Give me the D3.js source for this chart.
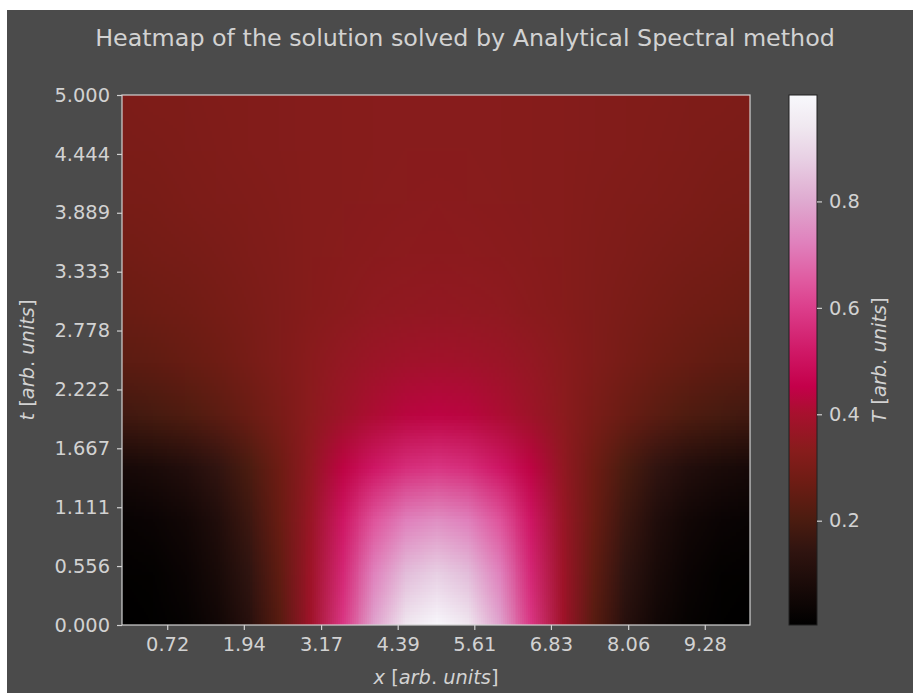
<!DOCTYPE html>
<html lang="en">
<head>
<meta charset="UTF-8">
<title>Heatmap of the solution solved by Analytical Spectral method</title>
<script src="https://cdn.jsdelivr.net/npm/d3@7"></script>
<style>
  html, body { margin: 0; padding: 0; background: #ffffff; }
  svg { display: block; font-family: "DejaVu Sans", sans-serif; }
  .axis .domain { display: none; }
  .axis line { stroke: #d2d2d2; stroke-width: 1.2; }
  .axis text { fill: #d2d2d2; font-size: 19.4px; font-family: "DejaVu Sans", sans-serif; }
  .lbl { fill: #d2d2d2; font-size: 19.4px; }
  .it { font-style: italic; }
</style>
</head>
<body>
<div id="chart"></div>
<script>
// grid of the solution T(x, t)
const xGrid = [0, 0.5, 1, 1.5, 2, 2.5, 3, 3.5, 4, 4.5, 5, 5.5, 6, 6.5, 7, 7.5, 8, 8.5, 9, 9.5, 10];
const tGrid = [0, 0.5, 1, 1.5, 2, 2.5, 3, 3.5, 4, 4.5, 5];

// one row per entry of tGrid, one value per entry of xGrid
const T_t00 = [0.004, 0.009, 0.022, 0.054, 0.117, 0.226, 0.386, 0.585, 0.788, 0.942, 1.000, 0.942, 0.788, 0.585, 0.386, 0.226, 0.117, 0.054, 0.022, 0.009, 0.004];
const T_t05 = [0.012, 0.017, 0.035, 0.075, 0.140, 0.245, 0.380, 0.550, 0.725, 0.840, 0.880, 0.840, 0.725, 0.550, 0.380, 0.245, 0.140, 0.075, 0.035, 0.017, 0.012];
const T_t10 = [0.028, 0.035, 0.055, 0.098, 0.168, 0.262, 0.370, 0.510, 0.640, 0.722, 0.750, 0.722, 0.640, 0.510, 0.370, 0.262, 0.168, 0.098, 0.055, 0.035, 0.028];
const T_t15 = [0.070, 0.082, 0.105, 0.145, 0.200, 0.272, 0.355, 0.440, 0.512, 0.562, 0.580, 0.562, 0.512, 0.440, 0.355, 0.272, 0.200, 0.145, 0.105, 0.082, 0.070];
const T_t20 = [0.180, 0.192, 0.210, 0.234, 0.265, 0.301, 0.341, 0.379, 0.411, 0.432, 0.440, 0.432, 0.411, 0.379, 0.341, 0.301, 0.265, 0.234, 0.210, 0.192, 0.180];
const T_t25 = [0.235, 0.245, 0.258, 0.274, 0.293, 0.315, 0.337, 0.358, 0.375, 0.386, 0.390, 0.386, 0.375, 0.358, 0.337, 0.315, 0.293, 0.274, 0.258, 0.245, 0.235];
const T_t30 = [0.265, 0.272, 0.280, 0.291, 0.302, 0.315, 0.327, 0.338, 0.347, 0.353, 0.355, 0.353, 0.347, 0.338, 0.327, 0.315, 0.302, 0.291, 0.280, 0.272, 0.265];
const T_t35 = [0.283, 0.288, 0.294, 0.301, 0.309, 0.317, 0.325, 0.332, 0.337, 0.341, 0.342, 0.341, 0.337, 0.332, 0.325, 0.317, 0.309, 0.301, 0.294, 0.288, 0.283];
const T_t40 = [0.295, 0.299, 0.304, 0.309, 0.314, 0.320, 0.325, 0.329, 0.333, 0.335, 0.336, 0.335, 0.333, 0.329, 0.325, 0.320, 0.314, 0.309, 0.304, 0.299, 0.295];
const T_t45 = [0.303, 0.306, 0.310, 0.314, 0.318, 0.322, 0.325, 0.328, 0.331, 0.332, 0.333, 0.332, 0.331, 0.328, 0.325, 0.322, 0.318, 0.314, 0.310, 0.306, 0.303];
const T_t50 = [0.308, 0.311, 0.313, 0.316, 0.319, 0.322, 0.325, 0.328, 0.330, 0.331, 0.331, 0.331, 0.330, 0.328, 0.325, 0.322, 0.319, 0.316, 0.313, 0.311, 0.308];
const rows = [T_t00, T_t05, T_t10, T_t15, T_t20, T_t25, T_t30, T_t35, T_t40, T_t45, T_t50];

const xTickVals = [0.72, 1.94, 3.17, 4.39, 5.61, 6.83, 8.06, 9.28];
const xTickLabels = ["0.72", "1.94", "3.17", "4.39", "5.61", "6.83", "8.06", "9.28"];
const yTickVals = [0, 0.556, 1.111, 1.667, 2.222, 2.778, 3.333, 3.889, 4.444, 5];
const yTickLabels = ["0.000", "0.556", "1.111", "1.667", "2.222", "2.778", "3.333", "3.889", "4.444", "5.000"];
const cTickVals = [0.2, 0.4, 0.6, 0.8];

// colour map: position along the colour bar (0 = bottom) and colour
const cmapPos = [0, 0.07, 0.14, 0.20, 0.27, 0.33, 0.40, 0.45, 0.52, 0.60, 0.65, 0.72, 0.80, 0.88, 0.94, 1];
const cmapCol = ["#000000", "#180a08", "#301410", "#4c1c10", "#6e1c14", "#881c1c", "#a8102e", "#c4004a",
                 "#d01a68", "#dc3f8c", "#e05aa0", "#e080bc", "#dfaad0", "#e8d0e4", "#f0e8f0", "#f8f8fc"];

const W = 913, H = 693;
const plot = { left: 122, top: 95, right: 750, bottom: 625 };
const bar = { left: 789, right: 817 };
const bg = "#4b4b4b";

const svg = d3.select("#chart").append("svg")
  .attr("width", W)
  .attr("height", H);

svg.append("rect")
  .attr("x", 7).attr("y", 10)
  .attr("width", W - 7).attr("height", H - 10)
  .attr("fill", bg);

const x = d3.scaleLinear().domain([0, 10]).range([plot.left, plot.right]);
const y = d3.scaleLinear().domain([0, 5]).range([plot.bottom, plot.top]);

const allVals = rows.flat();
const vmin = d3.min(allVals), vmax = d3.max(allVals);
const color = d3.scaleLinear()
  .domain(cmapPos.map(p => vmin + p * (vmax - vmin)))
  .range(cmapCol)
  .interpolate(d3.interpolateRgb)
  .clamp(true);

// bitmap: one pixel per grid node, smoothed by the browser when stretched
const cv = document.createElement("canvas");
cv.width = xGrid.length;
cv.height = tGrid.length;
const ctx = cv.getContext("2d");
const img = ctx.createImageData(cv.width, cv.height);
rows.forEach((row, j) => {
  const py = tGrid.length - 1 - j;
  row.forEach((v, i) => {
    const c = d3.rgb(color(v));
    const k = (py * cv.width + i) * 4;
    img.data[k] = c.r; img.data[k + 1] = c.g; img.data[k + 2] = c.b; img.data[k + 3] = 255;
  });
});
ctx.putImageData(img, 0, 0);

const dx = (xGrid[1] - xGrid[0]) / 2, dt = (tGrid[1] - tGrid[0]) / 2;
svg.append("clipPath").attr("id", "clip")
  .append("rect")
  .attr("x", plot.left).attr("y", plot.top)
  .attr("width", plot.right - plot.left).attr("height", plot.bottom - plot.top);

svg.append("g").attr("clip-path", "url(#clip)")
  .append("image")
  .attr("href", cv.toDataURL())
  .attr("preserveAspectRatio", "none")
  .attr("x", x(xGrid[0] - dx))
  .attr("y", y(tGrid[tGrid.length - 1] + dt))
  .attr("width", x(xGrid[xGrid.length - 1] + dx) - x(xGrid[0] - dx))
  .attr("height", y(tGrid[0] - dt) - y(tGrid[tGrid.length - 1] + dt));

svg.append("rect")
  .attr("x", plot.left).attr("y", plot.top)
  .attr("width", plot.right - plot.left).attr("height", plot.bottom - plot.top)
  .attr("fill", "none").attr("stroke", "#d2d2d2").attr("stroke-width", 1.2);

svg.append("g").attr("class", "axis")
  .attr("transform", `translate(0,${plot.bottom})`)
  .call(d3.axisBottom(x).tickValues(xTickVals).tickFormat((d, i) => xTickLabels[i]).tickSize(5).tickPadding(7));

svg.append("g").attr("class", "axis")
  .attr("transform", `translate(${plot.left},0)`)
  .call(d3.axisLeft(y).tickValues(yTickVals).tickFormat((d, i) => yTickLabels[i]).tickSize(5).tickPadding(7));

// colour bar
const grad = svg.append("defs").append("linearGradient")
  .attr("id", "cbar").attr("x1", 0).attr("y1", 1).attr("x2", 0).attr("y2", 0);
grad.selectAll("stop").data(cmapPos).join("stop")
  .attr("offset", d => d)
  .attr("stop-color", (d, i) => cmapCol[i]);

const cy = d3.scaleLinear().domain([vmin, vmax]).range([plot.bottom, plot.top]);
svg.append("rect")
  .attr("x", bar.left).attr("y", plot.top)
  .attr("width", bar.right - bar.left).attr("height", plot.bottom - plot.top)
  .attr("fill", "url(#cbar)")
  .attr("stroke", "#202020").attr("stroke-width", 1);

svg.append("g").attr("class", "axis")
  .attr("transform", `translate(${bar.right},0)`)
  .call(d3.axisRight(cy).tickValues(cTickVals).tickFormat(d3.format(".1f")).tickSize(5).tickPadding(7));

// title and axis labels
svg.append("text").attr("class", "lbl")
  .attr("x", 465).attr("y", 46)
  .attr("text-anchor", "middle")
  .style("font-size", "23.8px")
  .text("Heatmap of the solution solved by Analytical Spectral method");

function mathLabel(sel, sym) {
  sel.append("tspan").attr("class", "it").text(sym + " ");
  sel.append("tspan").text("[");
  sel.append("tspan").attr("class", "it").text("arb");
  sel.append("tspan").text(". ");
  sel.append("tspan").attr("class", "it").text("units");
  sel.append("tspan").text("]");
}

svg.append("text").attr("class", "lbl")
  .attr("x", (plot.left + plot.right) / 2).attr("y", 684)
  .attr("text-anchor", "middle")
  .call(mathLabel, "x");

svg.append("text").attr("class", "lbl")
  .attr("transform", `translate(34,${(plot.top + plot.bottom) / 2}) rotate(-90)`)
  .attr("text-anchor", "middle")
  .call(mathLabel, "t");

svg.append("text").attr("class", "lbl")
  .attr("transform", `translate(886,${(plot.top + plot.bottom) / 2}) rotate(-90)`)
  .attr("text-anchor", "middle")
  .call(mathLabel, "T");
</script>
</body>
</html>
